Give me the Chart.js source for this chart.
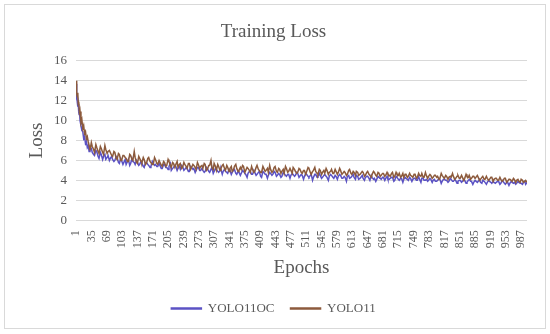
<!DOCTYPE html>
<html>
<head>
<meta charset="utf-8">
<script src="https://cdn.jsdelivr.net/npm/chart.js@4"></script>
<style>
  html, body { margin: 0; padding: 0; background: #fff; }
  #wrap { width: 550px; height: 334px; }
</style>
</head>
<body>
<div id="wrap"><canvas id="loss" width="550" height="334"></canvas></div>
<script>
var epochs = [
  1,2,3,4,5,6,7,8,9,10,
  12,14,16,18,20,22,24,26,28,30,
  35,40,45,50,55,60,65,70,75,80,
  85,90,95,100,105,110,115,120,125,130,
  135,140,145,150,155,160,165,170,175,180,
  185,190,195,200,205,210,215,220,225,230,
  235,240,245,250,255,260,265,270,275,280,
  285,290,295,300,305,310,315,320,325,330,
  335,340,345,350,355,360,365,370,375,380,
  385,390,395,400,405,410,415,420,425,430,
  435,440,445,450,455,460,465,470,475,480,
  485,490,495,500,505,510,515,520,525,530,
  535,540,545,550,555,560,565,570,575,580,
  585,590,595,600,605,610,615,620,625,630,
  635,640,645,650,655,660,665,670,675,680,
  685,690,695,700,705,710,715,720,725,730,
  735,740,745,750,755,760,765,770,775,780,
  785,790,795,800,805,810,815,820,825,830,
  835,840,845,850,855,860,865,870,875,880,
  885,890,895,900,905,910,915,920,925,930,
  935,940,945,950,955,960,965,970,975,980,
  985,990,995,1000
];

var yolo11oc = [
  13.7,12.1,12.6,11.8,11.4,11.7,10.9,10.6,10.8,10.0,
  9.5,9.0,8.9,8.2,8.4,7.7,7.9,7.3,7.5,6.9,
  7.2,6.6,7.0,6.4,6.8,6.1,6.6,6.3,6.0,6.4,
  5.9,6.4,5.8,6.2,5.6,6.1,5.9,5.5,6.2,5.8,
  6.0,5.5,5.9,5.4,5.8,5.6,5.3,5.9,5.5,5.4,
  5.7,5.2,5.6,5.3,5.1,5.7,5.2,5.5,5.0,5.4,
  5.5,5.0,5.3,4.9,5.4,5.1,4.8,5.3,5.0,5.2,
  4.8,5.3,4.9,5.1,4.7,5.2,4.9,5.0,4.6,5.1,
  4.8,5.1,4.6,5.0,4.7,4.9,4.5,5.0,4.7,4.3,
  4.9,4.6,5.0,4.5,4.8,4.4,4.9,4.6,4.2,4.8,
  4.5,4.9,4.4,4.7,4.3,4.8,4.5,4.6,4.2,4.7,
  4.4,4.8,4.3,4.6,4.1,4.7,4.4,4.5,4.0,4.6,
  4.3,4.7,4.2,4.5,4.4,4.0,4.6,4.3,4.5,4.1,
  4.6,4.2,4.4,3.9,4.5,4.3,4.6,4.1,4.4,4.2,
  4.5,4.0,4.4,4.2,4.5,4.1,3.9,4.4,4.2,4.3,
  4.0,4.4,4.1,4.3,3.9,4.4,4.1,4.2,3.8,4.3,
  4.1,4.3,3.9,4.2,4.0,4.4,3.8,4.2,4.0,3.9,
  4.2,3.8,4.1,3.9,4.2,3.7,4.1,4.0,3.8,4.2,
  3.9,4.1,3.7,4.0,3.8,4.1,3.7,4.0,3.9,3.6,
  4.0,3.8,4.1,3.7,3.9,3.6,4.0,3.8,3.9,3.7,
  3.9,3.6,4.0,3.7,3.8,3.5,3.9,3.7,3.6,3.9,
  3.7,3.6,3.9,3.8
];

var yolo11 = [
  14.0,12.9,12.7,12.4,12.8,11.6,11.9,11.2,10.6,10.9,
  9.8,10.1,9.2,9.5,8.7,8.9,8.2,8.4,7.9,7.5,
  7.8,7.1,7.6,6.9,7.4,6.8,7.5,6.7,7.0,6.5,
  6.9,6.2,6.7,6.0,6.5,6.3,5.9,6.6,6.1,6.9,
  5.8,6.4,5.9,6.3,5.6,6.2,5.9,5.6,6.3,5.7,
  6.0,5.5,5.9,5.4,6.1,5.5,5.8,5.3,5.9,5.6,
  5.2,5.8,5.4,5.7,5.1,5.6,5.3,5.8,5.2,5.5,
  5.7,5.0,5.5,6.0,5.1,5.4,5.6,5.0,5.5,5.2,
  5.5,4.9,5.4,5.1,5.6,4.9,5.3,5.5,4.8,5.3,
  5.0,5.4,4.8,5.3,5.1,4.8,5.4,4.9,5.2,5.5,
  4.8,5.3,4.9,5.2,4.7,5.1,5.4,4.8,5.2,4.7,
  5.1,4.7,5.2,4.8,5.0,4.6,5.3,4.8,4.9,5.3,
  4.7,5.1,4.6,5.0,5.2,4.6,4.9,4.7,5.1,4.6,
  5.2,4.6,4.9,4.5,5.0,4.7,4.9,4.5,4.8,4.6,
  4.9,4.4,4.8,4.6,4.3,4.9,4.5,4.8,4.4,4.7,
  4.4,4.8,4.5,4.7,4.3,4.8,4.5,4.3,4.7,4.6,
  4.3,4.7,4.4,4.6,4.2,4.7,4.4,4.3,4.8,4.2,
  4.6,4.2,4.5,4.3,4.1,4.7,4.3,4.5,4.1,4.4,
  4.7,4.1,4.4,4.2,4.5,4.0,4.6,4.3,4.1,4.4,
  4.2,4.5,4.0,4.3,4.1,4.4,4.0,4.3,3.9,4.2,
  4.0,4.3,3.9,4.2,3.8,4.1,4.0,4.2,3.8,4.1,
  3.8,4.0,3.9,3.8
];

// extra readings between the ones above
var epochsMid = [
  32,37,42,47,52,57,62,67,72,77,
  82,87,92,97,102,107,112,117,122,127,
  132,137,142,147,152,157,162,167,172,177,
  182,187,192,197,202,207,212,217,222,227,
  232,237,242,247,252,257,262,267,272,277,
  282,287,292,297,302,307,312,317,322,327,
  332,337,342,347,352,357,362,367,372,377,
  382,387,392,397,402,407,412,417,422,427,
  432,437,442,447,452,457,462,467,472,477,
  482,487,492,497,502,507,512,517,522,527,
  532,537,542,547,552,557,562,567,572,577,
  582,587,592,597,602,607,612,617,622,627,
  632,637,642,647,652,657,662,667,672,677,
  682,687,692,697,702,707,712,717,722,727,
  732,737,742,747,752,757,762,767,772,777,
  782,787,792,797,802,807,812,817,822,827,
  832,837,842,847,852,857,862,867,872,877,
  882,887,892,897,902,907,912,917,922,927,
  932,937,942,947,952,957,962,967,972,977,
  982,987,992,997
];

var yolo11ocMid = [
  7.1,6.8,6.5,6.9,6.2,6.6,6.4,6.1,6.5,6.2,
  6.1,6.0,6.3,5.7,6.0,5.8,5.6,6.1,5.7,5.9,
  5.6,5.8,5.6,5.7,5.3,5.8,5.5,5.4,5.7,5.6,
  5.4,5.5,5.2,5.6,5.3,5.4,5.0,5.3,5.4,5.2,
  5.1,5.4,5.1,5.2,4.9,5.3,5.2,5.0,5.3,5.0,
  5.0,4.9,5.2,4.8,5.3,4.9,5.1,4.8,5.1,4.9,
  4.9,4.7,5.0,4.8,5.1,4.6,4.8,4.7,4.9,4.6,
  4.7,4.9,4.6,4.8,4.6,4.9,4.3,4.8,4.6,4.5,
  4.7,4.6,4.8,4.5,4.6,4.4,4.7,4.4,4.6,4.5,
  4.6,4.5,4.7,4.3,4.5,4.4,4.6,4.3,4.6,4.3,
  4.6,4.4,4.5,4.3,4.6,4.3,4.4,4.5,4.2,4.4,
  4.4,4.5,4.2,4.3,4.4,4.2,4.4,4.3,4.5,4.1,
  4.3,4.2,4.3,4.4,4.0,4.3,4.2,4.1,4.3,4.1,
  4.3,4.2,4.1,4.2,4.3,4.0,4.3,4.0,4.2,4.1,
  4.2,4.0,4.2,4.1,4.2,4.0,4.1,4.2,4.0,4.1,
  4.0,4.1,4.0,3.9,4.0,4.1,3.9,4.1,4.0,3.9,
  4.1,3.9,4.0,3.9,4.0,3.9,4.0,3.8,4.1,3.9,
  3.8,4.0,3.9,3.8,4.0,3.8,3.8,3.9,3.7,3.8,
  3.8,3.9,3.7,3.9,3.6,3.8,3.7,3.8,3.8,3.7,
  3.8,3.7,3.8,3.6
];

var yolo11Mid = [
  7.0,7.4,6.8,7.3,6.7,7.2,6.6,7.1,6.9,6.8,
  6.4,6.8,6.1,6.6,6.0,6.5,6.2,5.9,6.5,6.0,
  6.3,5.7,6.2,5.8,6.1,5.7,6.3,5.9,5.6,6.1,
  5.6,6.0,5.4,5.8,5.5,5.9,5.3,5.7,5.6,5.3,
  5.7,5.3,5.6,5.2,5.7,5.3,5.5,5.1,5.6,5.4,
  5.2,5.6,5.1,5.5,5.3,5.7,5.0,5.4,5.2,5.6,
  5.0,5.3,5.2,4.9,5.4,5.2,5.0,5.1,5.4,5.0,
  5.2,4.8,5.1,4.9,5.5,5.0,4.8,5.2,5.0,4.8,
  5.1,4.9,5.4,4.8,5.1,4.9,4.7,5.2,4.9,5.0,
  5.3,4.9,4.8,5.1,4.7,5.0,4.9,5.2,4.6,5.0,
  4.9,4.6,5.0,4.8,4.7,5.0,4.8,5.1,4.7,4.9,
  4.8,5.0,4.7,4.8,4.6,5.1,4.6,4.8,4.9,4.5,
  4.7,4.8,4.5,4.9,4.5,4.6,4.8,4.4,4.7,4.5,
  4.7,4.5,4.6,4.4,4.8,4.4,4.6,4.7,4.4,4.3,
  4.6,4.4,4.5,4.3,4.6,4.3,4.5,4.7,4.3,4.5,
  4.4,4.5,4.3,4.5,4.4,4.2,4.5,4.2,4.4,4.3,
  4.3,4.4,4.2,4.5,4.2,4.3,4.2,4.4,4.5,4.2,
  4.4,4.2,4.3,4.1,4.4,4.1,4.2,4.1,4.3,4.1,
  4.2,4.0,4.1,4.0,4.2,3.9,4.1,3.9,4.1,4.0,
  3.9,4.1,3.8,4.0
];

// x tick labels shown under the axis
var xTicks = [1,35,69,103,137,171,205,239,273,307,341,375,409,443,477,511,545,579,613,647,681,715,749,783,817,851,885,919,953,987];
var yTicks = [0,2,4,6,8,10,12,14,16];

function points(vals, midVals) {
  var pts = vals.map(function (v, i) { return { x: epochs[i], y: v }; });
  midVals.forEach(function (v, i) { pts.push({ x: epochsMid[i], y: v }); });
  return pts.sort(function (a, b) { return a.x - b.x; });
}

var serif = "'Liberation Serif', 'Times New Roman', serif";
var grey = '#595959';

// light grey frame round the whole chart
var frame = {
  id: 'frame',
  beforeDraw: function (chart) {
    var ctx = chart.ctx;
    ctx.save();
    ctx.fillStyle = '#fff';
    ctx.fillRect(0, 0, chart.width, chart.height);
    ctx.strokeStyle = '#D9D9D9';
    ctx.lineWidth = 1;
    ctx.strokeRect(4.5, 4.5, 541, 324);
    ctx.restore();
  }
};

var lossChart = new Chart(document.getElementById('loss').getContext('2d'), {
  type: 'line',
  data: {
    datasets: [{
      label: 'YOLO11OC',
      data: points(yolo11oc, yolo11ocMid),
      borderColor: '#5B52C4',
      backgroundColor: '#5B52C4',
      borderWidth: 1.5,
      pointRadius: 0,
      tension: 0,
      order: 1
    }, {
      label: 'YOLO11',
      data: points(yolo11, yolo11Mid),
      borderColor: '#8C5A3C',
      backgroundColor: '#8C5A3C',
      borderWidth: 1.5,
      pointRadius: 0,
      tension: 0,
      order: 0
    }]
  },
  options: {
    responsive: false,
    animation: false,
    layout: { padding: { left: 20, right: 23, top: 0, bottom: 9 } },
    plugins: {
      title: {
        display: true,
        text: 'Training Loss',
        color: grey,
        font: { family: serif, size: 19, weight: 'normal' },
        padding: { top: 21, bottom: 17 }
      },
      legend: {
        position: 'bottom',
        labels: {
          color: grey,
          font: { family: serif, size: 13 },
          boxWidth: 30,
          boxHeight: 1,
          padding: 16,
          sort: function (a, b) { return a.datasetIndex - b.datasetIndex; }
        }
      },
      tooltip: { enabled: false }
    },
    scales: {
      x: {
        type: 'linear',
        min: 1,
        max: 1000,
        grid: { display: false },
        border: { display: false },
        afterBuildTicks: function (axis) {
          axis.ticks = xTicks.map(function (v) { return { value: v }; });
        },
        ticks: {
          autoSkip: false,
          minRotation: 90,
          maxRotation: 90,
          padding: 2,
          color: grey,
          font: { family: serif, size: 12 },
          callback: function (v) { return String(v); }
        },
        title: {
          display: true,
          text: 'Epochs',
          color: grey,
          font: { family: serif, size: 19 },
          padding: { top: 6, bottom: 7 }
        }
      },
      y: {
        min: 0,
        max: 16,
        afterBuildTicks: function (axis) {
          axis.ticks = yTicks.map(function (v) { return { value: v }; });
        },
        afterFit: function (axis) { axis.width = 56; },
        grid: { color: '#D9D9D9', drawTicks: false },
        border: { display: false },
        ticks: {
          padding: 9,
          color: grey,
          font: { family: serif, size: 13 }
        },
        title: {
          display: true,
          text: 'Loss',
          color: grey,
          font: { family: serif, size: 19 },
          padding: { top: 6, bottom: 4 }
        }
      }
    }
  },
  plugins: [frame]
});
</script>
</body>
</html>
